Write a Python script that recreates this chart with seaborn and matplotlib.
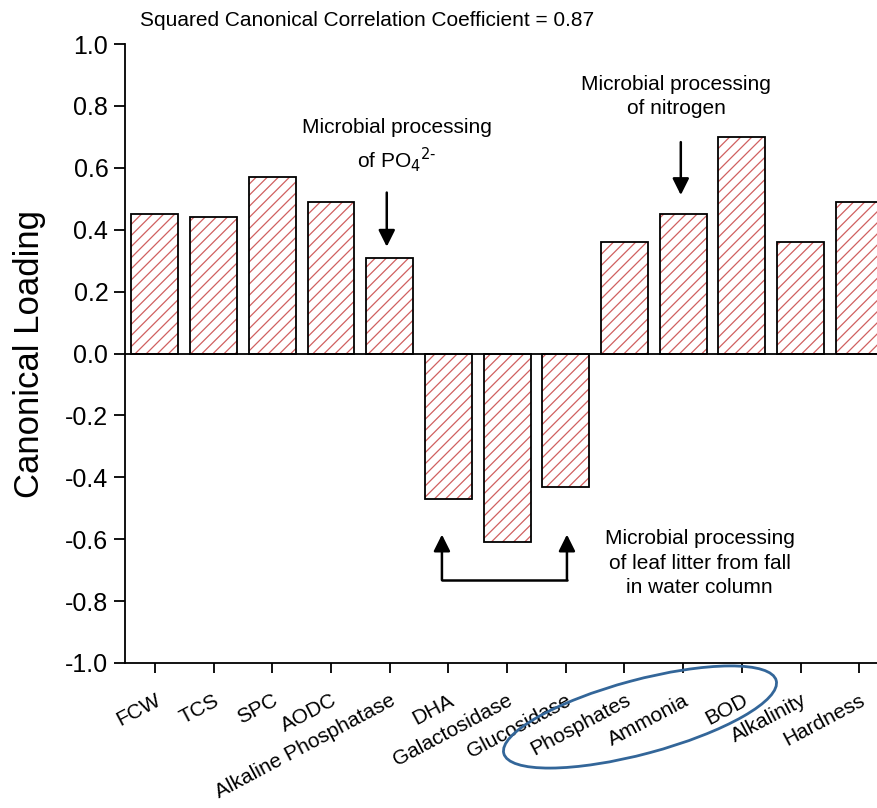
import matplotlib
matplotlib.use("Agg")
import matplotlib.pyplot as plt
from matplotlib.patches import Ellipse
from matplotlib.transforms import IdentityTransform
import seaborn as sns
import pandas as pd

variables = ["FCW", "TCS", "SPC", "AODC", "Alkaline Phosphatase", "DHA",
             "Galactosidase", "Glucosidase", "Phosphates", "Ammonia", "BOD",
             "Alkalinity", "Hardness"]
loadings = [0.45, 0.44, 0.57, 0.49, 0.31, -0.47, -0.61, -0.43, 0.36, 0.45,
            0.70, 0.36, 0.49]
y_ticks = [1.0, 0.8, 0.6, 0.4, 0.2, 0.0, -0.2, -0.4, -0.6, -0.8, -1.0]

df = pd.DataFrame({"variable": variables, "loading": loadings})

sns.set_style("white")
plt.rcParams["font.family"] = ["Liberation Sans", "DejaVu Sans"]
plt.rcParams["axes.unicode_minus"] = False
plt.rcParams["hatch.linewidth"] = 0.9
for key in ("text.color", "axes.labelcolor", "xtick.color", "ytick.color"):
    plt.rcParams[key] = "black"

fig = plt.figure(figsize=(8.78, 8.08), dpi=100)
ax = fig.add_axes([125 / 878, 145 / 808, 1 - 125 / 878, 619 / 808])

hatch_red = "#d06060"
# hatched fill (hatch colour comes from the edge colour)
sns.barplot(data=df, x="variable", y="loading", order=variables, ax=ax,
            color="white", edgecolor=hatch_red, linewidth=0, hatch="///",
            width=0.8)
# black outlines on top
sns.barplot(data=df, x="variable", y="loading", order=variables, ax=ax,
            fill=False, edgecolor="black", linewidth=1.3, width=0.8)

ax.axhline(0, color="black", lw=1.3, zorder=5)
ax.set_ylim(-1.0, 1.0)
ax.set_xlim(-0.51, 12.32)
ax.set_yticks(y_ticks)
ax.set_yticklabels([f"{v:.1f}" for v in y_ticks])
ax.set_xlabel("")
ax.set_ylabel("Canonical Loading", fontsize=25, labelpad=14)

for side in ("top", "right"):
    ax.spines[side].set_visible(False)
for side in ("left", "bottom"):
    ax.spines[side].set_color("black")
    ax.spines[side].set_linewidth(1.3)

ax.tick_params(axis="y", which="major", direction="out", length=8, width=1.3,
               labelsize=18, pad=4, left=True)
ax.tick_params(axis="x", which="major", direction="out", length=7, width=1.3,
               labelsize=15, pad=13, bottom=True)
for lbl in ax.get_xticklabels():
    lbl.set_rotation(28)
    lbl.set_ha("right")
    lbl.set_va("top")
    lbl.set_rotation_mode("anchor")

fig.text(140 / 878, 1 - 20 / 808, "Squared Canonical Correlation Coefficient = 0.87",
         fontsize=15, ha="left", va="center")

arrow_kw = dict(arrowstyle="-|>,head_length=1.0,head_width=0.5", color="black",
                lw=1.8, shrinkA=0, shrinkB=0)

# phosphate annotation
ax.text(4.12, 0.67, "Microbial processing\nof PO$_4$$^{2\u2011}$", ha="center",
        va="center", fontsize=15, linespacing=1.35)
ax.annotate("", xy=(3.95, 0.345), xytext=(3.95, 0.52), arrowprops=arrow_kw)

# nitrogen annotation
ax.text(8.88, 0.83, "Microbial processing\nof nitrogen", ha="center",
        va="center", fontsize=15, linespacing=1.35)
ax.annotate("", xy=(8.96, 0.512), xytext=(8.96, 0.683), arrowprops=arrow_kw)

# leaf litter bracket
ax.plot([4.89, 7.02], [-0.732, -0.732], color="black", lw=1.8)
ax.annotate("", xy=(4.89, -0.585), xytext=(4.89, -0.732), arrowprops=arrow_kw)
ax.annotate("", xy=(7.02, -0.585), xytext=(7.02, -0.732), arrowprops=arrow_kw)
ax.text(9.28, -0.677, "Microbial processing\nof leaf litter from fall\nin water column",
        ha="center", va="center", fontsize=15, linespacing=1.35)

# grouping ring around the nutrient labels (pixel coordinates)
ring = Ellipse((640, 808 - 717), width=282, height=74, angle=15,
               transform=IdentityTransform(), fill=False,
               edgecolor="#336699", lw=2)
fig.patches.append(ring)

fig.savefig("out.png", dpi=100)
